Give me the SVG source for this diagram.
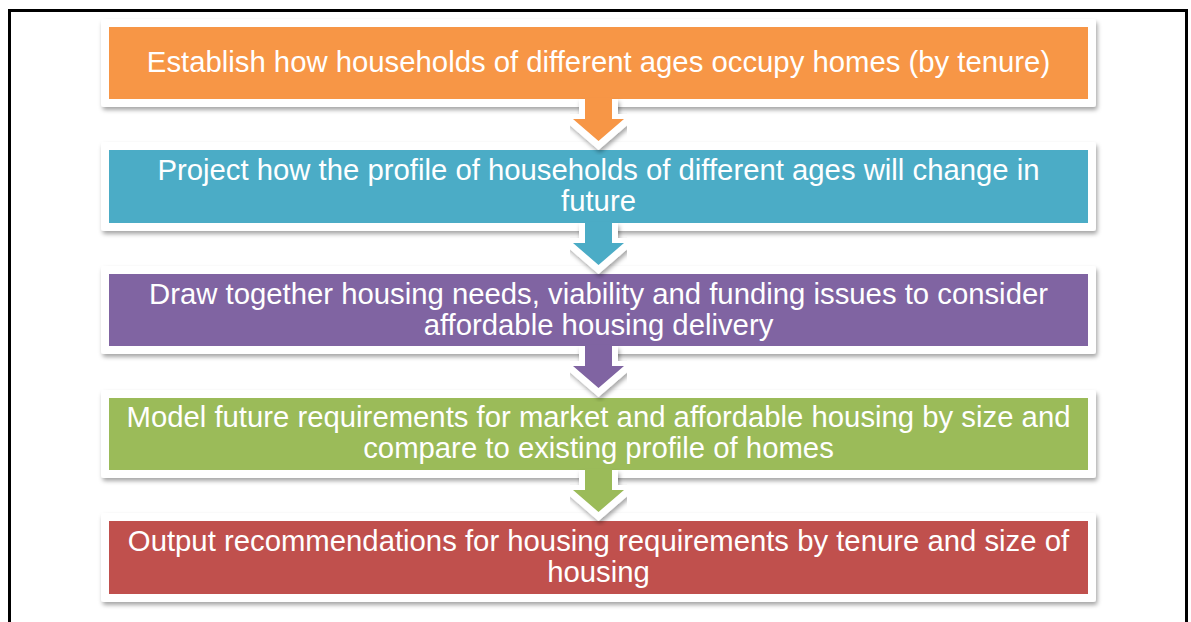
<svg xmlns="http://www.w3.org/2000/svg" width="1191" height="622" viewBox="0 0 1191 622">
  <defs>
    <filter id="sh" x="-5%" y="-20%" width="110%" height="150%">
      <feDropShadow dx="1.5" dy="3" stdDeviation="2" flood-color="#000" flood-opacity="0.35"/>
    </filter>
    <path id="arrow" d="M585 0 V21 H573 L598.5 43 L624 21 H612 V0"/>
  </defs>
  <style>
    .frame { fill: #FFFFFF; filter: url(#sh); }
    .lbl { font-family: "Liberation Sans", Arial, sans-serif; font-size: 29.3px; fill: #FFFFFF; text-anchor: middle; }
    .outl { fill: #FFFFFF; stroke: #FFFFFF; stroke-width: 12; stroke-linejoin: miter; filter: url(#sh); }
  </style>
  <rect width="1191" height="622" fill="#FFFFFF"/>
  <path d="M9.5 622 V10.5 H1186.5 V622" fill="none" stroke="#000" stroke-width="3"/>

  <g id="n1">
    <rect class="frame" x="101" y="19" width="995" height="88" rx="3"/>
    <rect x="109" y="27" width="979" height="72" fill="#F79646"/>
    <text class="lbl" x="598.5" y="72">Establish how households of different ages occupy homes (by tenure)</text>
  </g>
  <g id="n2">
    <rect class="frame" x="101" y="142" width="995" height="89" rx="3"/>
    <rect x="109" y="150" width="979" height="73" fill="#4BACC6"/>
    <text class="lbl" x="598.5" y="180">Project how the profile of households of different ages will change in</text>
    <text class="lbl" x="598.5" y="211">future</text>
  </g>
  <g id="n3">
    <rect class="frame" x="101" y="266" width="995" height="88" rx="3"/>
    <rect x="109" y="274" width="979" height="72" fill="#8064A2"/>
    <text class="lbl" x="598.5" y="304">Draw together housing needs, viability and funding issues to consider</text>
    <text class="lbl" x="598.5" y="335">affordable housing delivery</text>
  </g>
  <g id="n4">
    <rect class="frame" x="101" y="390" width="995" height="88" rx="3"/>
    <rect x="109" y="398" width="979" height="72" fill="#9BBB59"/>
    <text class="lbl" x="598.5" y="427">Model future requirements for market and affordable housing by size and</text>
    <text class="lbl" x="598.5" y="458">compare to existing profile of homes</text>
  </g>
  <g id="n5">
    <rect class="frame" x="101" y="513" width="995" height="89" rx="3"/>
    <rect x="109" y="521" width="979" height="73" fill="#C0504D"/>
    <text class="lbl" x="598.5" y="551">Output recommendations for housing requirements by tenure and size of</text>
    <text class="lbl" x="598.5" y="582">housing</text>
  </g>

  <g id="connectors">
    <g transform="translate(0 99)"><use href="#arrow" class="outl"/><use href="#arrow" fill="#F79646" transform="translate(0 -1)"/></g>
    <g transform="translate(0 223)"><use href="#arrow" class="outl"/><use href="#arrow" fill="#4BACC6" transform="translate(0 -1)"/></g>
    <g transform="translate(0 346)"><use href="#arrow" class="outl"/><use href="#arrow" fill="#8064A2" transform="translate(0 -1)"/></g>
    <g transform="translate(0 470)"><use href="#arrow" class="outl"/><use href="#arrow" fill="#9BBB59" transform="translate(0 -1)"/></g>
  </g>
</svg>
